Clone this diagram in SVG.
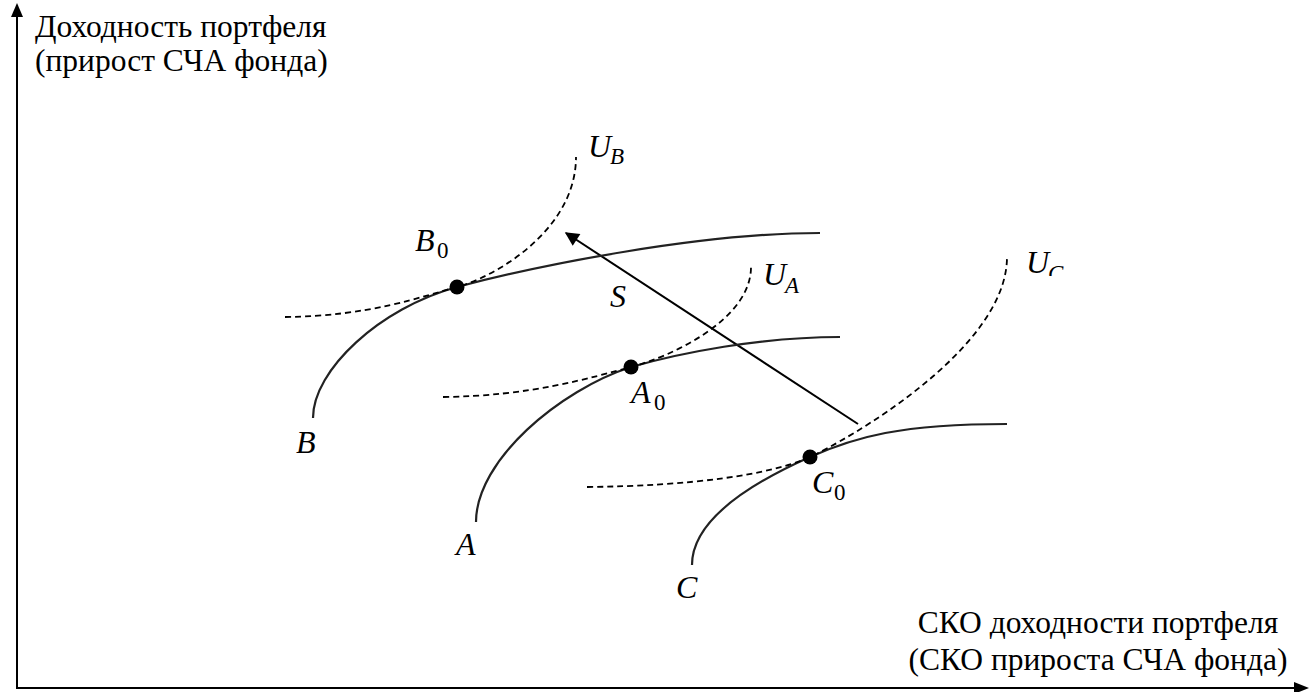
<svg xmlns="http://www.w3.org/2000/svg" width="1311" height="692" viewBox="0 0 1311 692">
  <style>
    .axis { stroke: #000; stroke-width: 2; fill: none; }
    .curve { stroke: #222; stroke-width: 2.2; fill: none; }
    .indiff { stroke: #000; stroke-width: 1.8; fill: none; stroke-dasharray: 6 4; }
    .arrow { stroke: #000; stroke-width: 2; fill: none; }
    .lbl { font-family: "Liberation Serif", "Times New Roman", serif; font-size: 31.5px; fill: #000; }
    .m { font-family: "Liberation Serif", "DejaVu Serif", serif; font-style: italic; font-size: 32px; fill: #000; }
    .sub { font-family: "Liberation Serif", "DejaVu Serif", serif; font-size: 23px; fill: #000; }
    .subi { font-family: "Liberation Serif", "DejaVu Serif", serif; font-style: italic; font-size: 23px; fill: #000; }
    .dot { fill: #000; }
  </style>
  <defs>
    <marker id="ahS" viewBox="0 0 10 10" refX="9" refY="5" markerWidth="18" markerHeight="14" markerUnits="userSpaceOnUse" orient="auto">
      <path d="M0,0 L10,5 L0,10 Z" fill="#000"/>
    </marker>
    <clipPath id="clipUC">
      <rect x="1020" y="240" width="60" height="36"/>
    </clipPath>
  </defs>

  <g id="axes">
    <line class="axis" x1="17" y1="689" x2="17" y2="16"/>
    <path d="M17,3 L11,17 L23,17 Z" fill="#000"/>
    <line class="axis" x1="16" y1="688" x2="1296" y2="688"/>
    <path d="M1309,688 L1294,682 L1294,694 Z" fill="#000"/>
    <text class="lbl" x="35" y="37">Доходность портфеля</text>
    <text class="lbl" x="35" y="71">(прирост СЧА фонда)</text>
    <text class="lbl" x="1098" y="633" text-anchor="middle">СКО доходности портфеля</text>
    <text class="lbl" x="1098" y="670" text-anchor="middle">(СКО прироста СЧА фонда)</text>
  </g>

  <g id="connectors">
    <line class="arrow" x1="858" y1="424" x2="566" y2="233" marker-end="url(#ahS)"/>
  </g>

  <g id="curve-B">
    <path class="curve" d="M313,418 C313,370 380,308 457,287 C540,265 700,233 820,233"/>
    <path class="indiff" d="M285,317 C370,316 420,297 457,287 C495,277 576,230 576,157"/>
    <circle class="dot" cx="457" cy="287" r="7.5"/>
    <text class="m" x="415" y="251">B</text>
    <text class="sub" x="437" y="258">0</text>
    <text class="m" x="588" y="157">U</text>
    <text class="subi" x="610" y="164">B</text>
    <text class="m" x="296" y="453">B</text>
  </g>

  <g id="curve-A">
    <path class="curve" d="M476,522 C476,460 560,390 631,367 C680,353 760,337 840,337"/>
    <path class="indiff" d="M443,397 C530,396 590,378 631,367 C670,357 751,320 751,267"/>
    <circle class="dot" cx="631" cy="367" r="7.5"/>
    <text class="m" x="631" y="403">A</text>
    <text class="sub" x="654" y="410">0</text>
    <text class="m" x="763" y="285">U</text>
    <text class="subi" x="785" y="293">A</text>
    <text class="m" x="456" y="555">A</text>
  </g>

  <g id="curve-C">
    <path class="curve" d="M692,565 C692,515 765,477 810,457 C855,437 900,424 1007,424"/>
    <path class="indiff" d="M587,487 C690,486 770,475 810,457 C845,441 1007,350 1007,257"/>
    <circle class="dot" cx="810" cy="457" r="7.5"/>
    <text class="m" x="812" y="493">C</text>
    <text class="sub" x="834" y="500">0</text>
    <g clip-path="url(#clipUC)">
      <text class="m" x="1026" y="273">U</text>
      <text class="subi" x="1048" y="281">C</text>
    </g>
    <text class="m" x="676" y="598">C</text>
  </g>

  <g id="label-S">
    <text class="m" x="610" y="307">S</text>
  </g>
</svg>
